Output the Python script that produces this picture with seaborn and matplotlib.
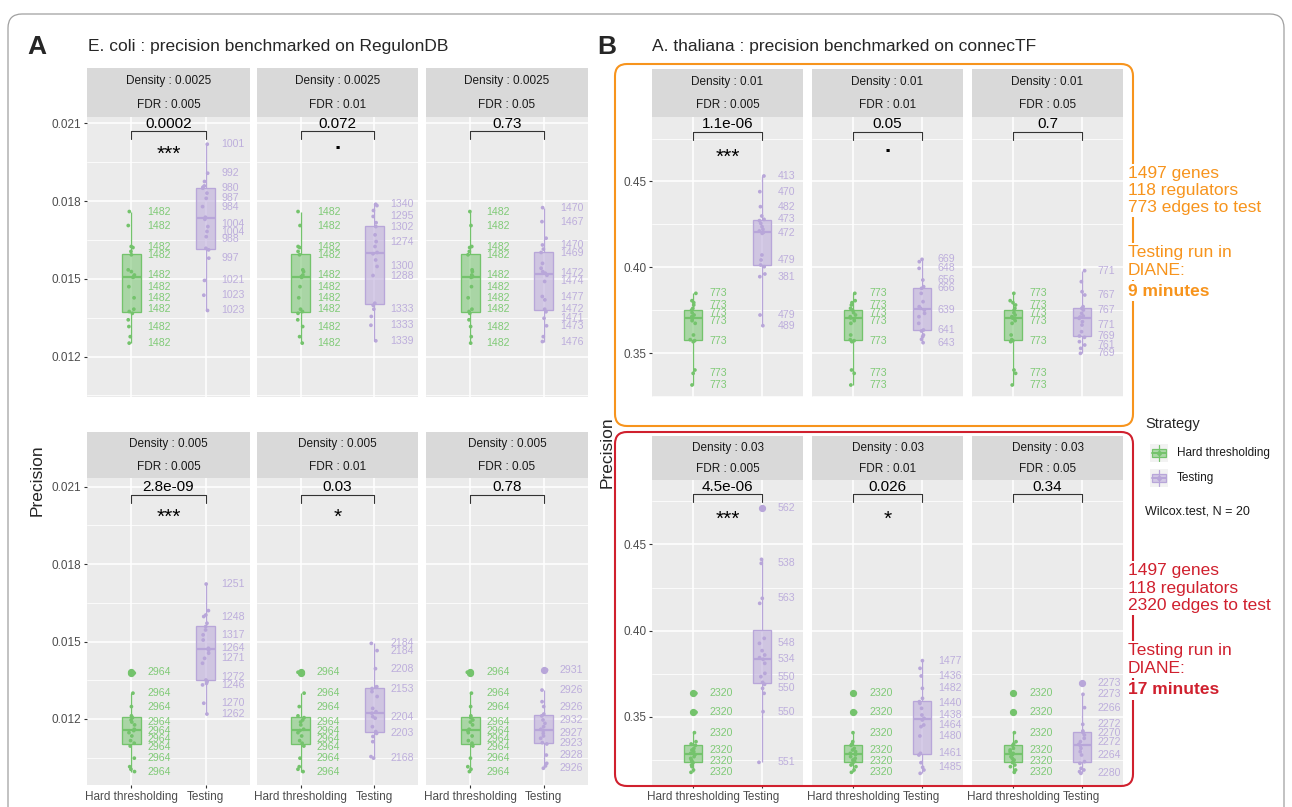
import numpy as np
import pandas as pd
import seaborn as sns
import matplotlib
matplotlib.use("Agg")
import matplotlib.pyplot as plt
import matplotlib.transforms as mtrans
from matplotlib.patches import FancyBboxPatch, Rectangle

# ------------------------------------------------------------------ data
strategies = ["Hard thresholding", "Testing"]
fdr_levels = ["0.005", "0.01", "0.05"]
ecoli_densities = ["0.0025", "0.005"]
thaliana_densities = ["0.01", "0.03"]

# E. coli, density 0.0025 (hard thresholding does not depend on the FDR)
ecoli_hard_d0025 = [0.01760, 0.01706, 0.01625, 0.01621, 0.01606, 0.01593, 0.01535, 0.01528, 0.01515, 0.01509,
                    0.01506, 0.01470, 0.01427, 0.01383, 0.01374, 0.01367, 0.01342, 0.01316, 0.01277, 0.01252]
ecoli_hard_d0025_edges = [(0.01760, 1482), (0.01706, 1482), (0.01625, 1482), (0.01593, 1482), (0.01515, 1482),
                          (0.01470, 1482), (0.01427, 1482), (0.01383, 1482), (0.01316, 1482), (0.01252, 1482)]
ecoli_test_d0025_fdr0005 = [0.02020, 0.01908, 0.01876, 0.01859, 0.01854, 0.01850, 0.01831, 0.01811, 0.01779, 0.01738,
                            0.01730, 0.01702, 0.01683, 0.01663, 0.01618, 0.01612, 0.01580, 0.01494, 0.01437, 0.01378]
ecoli_test_d0025_fdr0005_edges = [(0.02020, 1001), (0.01908, 992), (0.01850, 980), (0.01811, 987), (0.01779, 984),
                                  (0.01702, 1004), (0.01683, 1004), (0.01663, 988), (0.01580, 997), (0.01494, 1021),
                                  (0.01437, 1023), (0.01378, 1023)]
ecoli_test_d0025_fdr001 = [0.01788, 0.01783, 0.01764, 0.01741, 0.01717, 0.01702, 0.01670, 0.01644, 0.01625, 0.01602,
                           0.01597, 0.01573, 0.01548, 0.01513, 0.01406, 0.01398, 0.01383, 0.01355, 0.01321, 0.01261]
ecoli_test_d0025_fdr001_edges = [(0.01788, 1340), (0.01741, 1295), (0.01702, 1302), (0.01644, 1274), (0.01548, 1300),
                                 (0.01513, 1288), (0.01383, 1333), (0.01321, 1333), (0.01261, 1339)]
ecoli_test_d0025_fdr005 = [0.01775, 0.01721, 0.01657, 0.01631, 0.01615, 0.01602, 0.01560, 0.01541, 0.01528, 0.01522,
                           0.01514, 0.01490, 0.01432, 0.01419, 0.01383, 0.01373, 0.01348, 0.01319, 0.01277, 0.01258]
ecoli_test_d0025_fdr005_edges = [(0.01775, 1470), (0.01721, 1467), (0.01631, 1470), (0.01602, 1469), (0.01522, 1472),
                                 (0.01490, 1474), (0.01432, 1477), (0.01383, 1472), (0.01348, 1471), (0.01319, 1473),
                                 (0.01258, 1476)]

# E. coli, density 0.005
ecoli_hard_d005 = [0.01381, 0.01378, 0.01300, 0.01248, 0.01212, 0.01205, 0.01196, 0.01188, 0.01177, 0.01160,
                   0.01155, 0.01147, 0.01134, 0.01116, 0.01106, 0.01095, 0.01048, 0.01015, 0.01005, 0.00996]
ecoli_hard_d005_edges = [(0.01381, 2964), (0.01300, 2964), (0.01248, 2964), (0.01188, 2964), (0.01155, 2964),
                         (0.01116, 2964), (0.01095, 2964), (0.01048, 2964), (0.00996, 2964)]
ecoli_test_d005_fdr0005 = [0.01723, 0.01620, 0.01603, 0.01597, 0.01571, 0.01558, 0.01545, 0.01526, 0.01506, 0.01474,
                           0.01467, 0.01455, 0.01435, 0.01416, 0.01351, 0.01345, 0.01338, 0.01332, 0.01261, 0.01219]
ecoli_test_d005_fdr0005_edges = [(0.01723, 1251), (0.01597, 1248), (0.01526, 1317), (0.01474, 1264), (0.01435, 1271),
                                 (0.01351, 1272), (0.01345, 1246), (0.01261, 1270), (0.01219, 1262)]
ecoli_test_d005_fdr001 = [0.01493, 0.01465, 0.01395, 0.01325, 0.01323, 0.01318, 0.01306, 0.01287, 0.01241, 0.01228,
                          0.01222, 0.01209, 0.01203, 0.01170, 0.01151, 0.01144, 0.01132, 0.01112, 0.01054, 0.01048]
ecoli_test_d005_fdr001_edges = [(0.01493, 2184), (0.01465, 2184), (0.01395, 2208), (0.01318, 2153), (0.01209, 2204),
                                (0.01144, 2203), (0.01048, 2168)]
ecoli_test_d005_fdr005 = [0.01390, 0.01312, 0.01267, 0.01248, 0.01219, 0.01212, 0.01196, 0.01183, 0.01170, 0.01160,
                          0.01155, 0.01144, 0.01134, 0.01125, 0.01108, 0.01103, 0.01060, 0.01028, 0.01018, 0.01009]
ecoli_test_d005_fdr005_edges = [(0.01390, 2931), (0.01312, 2926), (0.01248, 2926), (0.01196, 2932), (0.01144, 2927),
                                (0.01108, 2923), (0.01060, 2928), (0.01009, 2926)]

# A. thaliana, density 0.01
thaliana_hard_d001 = [0.38485, 0.38058, 0.37942, 0.37806, 0.37612, 0.37515, 0.37359, 0.37223, 0.37126, 0.37049,
                      0.37010, 0.36893, 0.36738, 0.36058, 0.35786, 0.35728, 0.35670, 0.34019, 0.33825, 0.33146]
thaliana_hard_d001_edges = [(0.38485, 773), (0.37806, 773), (0.37359, 773), (0.36893, 773), (0.35728, 773),
                            (0.33825, 773), (0.33146, 773)]
thaliana_test_d001_fdr0005 = [0.45321, 0.44408, 0.43534, 0.42991, 0.42796, 0.42719, 0.42563, 0.42369, 0.42214, 0.42117,
                              0.42039, 0.41981, 0.40719, 0.40427, 0.40136, 0.40039, 0.39612, 0.39456, 0.37223, 0.36602]
thaliana_test_d001_fdr0005_edges = [(0.45321, 413), (0.44408, 470), (0.43534, 482), (0.42796, 473), (0.41981, 472),
                                    (0.40427, 479), (0.39456, 381), (0.37223, 479), (0.36602, 489)]
thaliana_test_d001_fdr001 = [0.40466, 0.40330, 0.39942, 0.39262, 0.38874, 0.38777, 0.38485, 0.38000, 0.37709, 0.37612,
                             0.37515, 0.37320, 0.37126, 0.36738, 0.36350, 0.36291, 0.36058, 0.35961, 0.35806, 0.35612]
thaliana_test_d001_fdr001_edges = [(0.40466, 669), (0.39942, 648), (0.39262, 656), (0.38777, 666), (0.37515, 639),
                                   (0.36350, 641), (0.35612, 643)]
thaliana_test_d001_fdr005 = [0.39806, 0.39165, 0.38582, 0.38388, 0.37709, 0.37612, 0.37515, 0.37320, 0.37165, 0.37107,
                             0.37029, 0.36835, 0.36641, 0.36252, 0.35999, 0.35922, 0.35670, 0.35476, 0.35282, 0.34990]
thaliana_test_d001_fdr005_edges = [(0.39806, 771), (0.38388, 767), (0.37515, 767), (0.36641, 771), (0.35999, 769),
                                   (0.35476, 761), (0.34990, 769)]

# A. thaliana, density 0.03
thaliana_hard_d003 = [0.36371, 0.35270, 0.34093, 0.33571, 0.33436, 0.33359, 0.33185, 0.33089, 0.32992, 0.32896,
                      0.32819, 0.32703, 0.32606, 0.32510, 0.32432, 0.32355, 0.32220, 0.32124, 0.31931, 0.31796]
thaliana_hard_d003_edges = [(0.36371, 2320), (0.35270, 2320), (0.34093, 2320), (0.33089, 2320), (0.32432, 2320),
                            (0.31796, 2320)]
thaliana_test_d003_fdr0005 = [0.47124, 0.44131, 0.43900, 0.41873, 0.41583, 0.39556, 0.39266, 0.38842, 0.38591, 0.38436,
                              0.38340, 0.38108, 0.37529, 0.37336, 0.37008, 0.36892, 0.36660, 0.36371, 0.35309, 0.32374]
thaliana_test_d003_fdr0005_edges = [(0.47124, 562), (0.43900, 538), (0.41873, 563), (0.39266, 548), (0.38340, 534),
                                    (0.37336, 550), (0.36660, 550), (0.35309, 550), (0.32374, 551)]
thaliana_test_d003_fdr001 = [0.38263, 0.37819, 0.37375, 0.36660, 0.36081, 0.35888, 0.35792, 0.35502, 0.35116, 0.34923,
                             0.34826, 0.34537, 0.34440, 0.33900, 0.32896, 0.32799, 0.32355, 0.32085, 0.31931, 0.31737]
thaliana_test_d003_fdr001_edges = [(0.38263, 1477), (0.37375, 1436), (0.36660, 1482), (0.35792, 1440), (0.35116, 1438),
                                   (0.34537, 1464), (0.33900, 1480), (0.32896, 1461), (0.32085, 1485)]
thaliana_test_d003_fdr005 = [0.36950, 0.36313, 0.35541, 0.34575, 0.34189, 0.34093, 0.33958, 0.33764, 0.33571, 0.33417,
                             0.33340, 0.33185, 0.32992, 0.32799, 0.32413, 0.32317, 0.32027, 0.31931, 0.31834, 0.31737]
thaliana_test_d003_fdr005_edges = [(0.36950, 2273), (0.36313, 2273), (0.35541, 2266), (0.34575, 2272), (0.34093, 2270),
                                   (0.33571, 2272), (0.32799, 2264), (0.31737, 2280)]

# Wilcoxon p-values (Hard thresholding vs Testing), one per facet
ecoli_pvalues = [["0.0002", "0.072", "0.73"], ["2.8e-09", "0.03", "0.78"]]
thaliana_pvalues = [["1.1e-06", "0.05", "0.7"], ["4.5e-06", "0.026", "0.34"]]

ecoli_hard = [ecoli_hard_d0025, ecoli_hard_d005]
ecoli_hard_edges = [ecoli_hard_d0025_edges, ecoli_hard_d005_edges]
ecoli_test = [[ecoli_test_d0025_fdr0005, ecoli_test_d0025_fdr001, ecoli_test_d0025_fdr005],
              [ecoli_test_d005_fdr0005, ecoli_test_d005_fdr001, ecoli_test_d005_fdr005]]
ecoli_test_edges = [[ecoli_test_d0025_fdr0005_edges, ecoli_test_d0025_fdr001_edges, ecoli_test_d0025_fdr005_edges],
                    [ecoli_test_d005_fdr0005_edges, ecoli_test_d005_fdr001_edges, ecoli_test_d005_fdr005_edges]]
thaliana_hard = [thaliana_hard_d001, thaliana_hard_d003]
thaliana_hard_edges = [thaliana_hard_d001_edges, thaliana_hard_d003_edges]
thaliana_test = [[thaliana_test_d001_fdr0005, thaliana_test_d001_fdr001, thaliana_test_d001_fdr005],
                 [thaliana_test_d003_fdr0005, thaliana_test_d003_fdr001, thaliana_test_d003_fdr005]]
thaliana_test_edges = [[thaliana_test_d001_fdr0005_edges, thaliana_test_d001_fdr001_edges, thaliana_test_d001_fdr005_edges],
                       [thaliana_test_d003_fdr0005_edges, thaliana_test_d003_fdr001_edges, thaliana_test_d003_fdr005_edges]]

# ------------------------------------------------------------------ style
sns.set_theme(style="white")
plt.rcParams["font.family"] = ["Liberation Sans", "DejaVu Sans"]

W, H = 1292, 807
GREEN = "#74C36C"
PURPLE = "#B8A6D9"
GREEN_TXT = "#80CA77"
PURPLE_TXT = "#BDAEDC"
PANEL = "#EBEBEB"
STRIP = "#D9D9D9"
ORANGE = "#F7941D"
RED = "#D0202E"
PALETTE = {strategies[0]: GREEN, strategies[1]: PURPLE}
TEXT_COLORS = [GREEN_TXT, PURPLE_TXT]

np.random.seed(11)
fig = plt.figure(figsize=(W / 100, H / 100), dpi=100)
fig.patch.set_facecolor("white")


def px_rect(x0, y0, x1, y1):
    """Pixel box (top-left origin) -> figure fraction rectangle."""
    return [x0 / W, 1 - y1 / H, (x1 - x0) / W, (y1 - y0) / H]


def fy(y):
    return 1 - y / H


def stars(p):
    p = float(p)
    if p < 0.001:
        return "***"
    if p < 0.01:
        return "**"
    if p < 0.05:
        return "*"
    if p <= 0.1:
        return "."
    return ""


def spread(ax, values, gap_px=7.8):
    """Push overlapping labels apart vertically (display space)."""
    vals = np.asarray(values, float)
    disp = ax.transData.transform(np.column_stack([np.zeros(len(vals)), vals]))[:, 1]
    order = np.argsort(-disp)
    y = disp[order].copy()
    for _ in range(400):
        moved = False
        for k in range(len(y) - 1):
            d = y[k] - y[k + 1]
            if d < gap_px - 1e-6:
                s = (gap_px - d) / 2
                y[k] += s
                y[k + 1] -= s
                moved = True
        if not moved:
            break
    out = np.empty_like(y)
    out[order] = y
    return ax.transData.inverted().transform(np.column_stack([np.zeros(len(out)), out]))[:, 1]


def draw_facet(xs, rows, ylim, ticks, minor, fmt, hard, test, hard_edges, test_edges,
               pval, density, fdr, bracket_y, sig_y, first_col, bottom_row):
    x0, x1 = xs
    strip_top, top, bottom = rows
    ax = fig.add_axes(px_rect(x0, top, x1, bottom))
    sax = fig.add_axes(px_rect(x0, strip_top, x1, top))
    sax.set_facecolor(STRIP)
    sax.set_xticks([])
    sax.set_yticks([])
    for s in sax.spines.values():
        s.set_visible(False)
    sax.text(0.5, 0.735, f"Density : {density}", ha="center", va="center", fontsize=8.5, color="#1A1A1A")
    sax.text(0.5, 0.245, f"FDR : {fdr}", ha="center", va="center", fontsize=8.5, color="#1A1A1A")

    df = pd.DataFrame({"Strategy": [strategies[0]] * len(hard) + [strategies[1]] * len(test),
                       "Precision": list(hard) + list(test)})
    ax.set_facecolor(PANEL)
    sns.boxplot(data=df, x="Strategy", y="Precision", hue="Strategy", order=strategies, hue_order=strategies,
                palette=PALETTE, saturation=1, width=0.26, showcaps=False, linewidth=0.95, legend=False,
                flierprops=dict(marker="o", markersize=4.2), ax=ax, zorder=2)
    for cont, col in zip(ax.containers, [GREEN, PURPLE]):
        for b in cont.boxes:
            b.set_facecolor(matplotlib.colors.to_rgba(col, 0.55))
            b.set_edgecolor(col)
        for ln in cont.whiskers:
            ln.set_color(col)
        for ln in cont.medians:
            ln.set_color(col)
            ln.set_linewidth(1.6)
        for ln in cont.fliers:
            ln.set_markerfacecolor(col)
            ln.set_markeredgecolor(col)
    sns.stripplot(data=df, x="Strategy", y="Precision", hue="Strategy", order=strategies, hue_order=strategies,
                  palette=PALETTE, jitter=0.045, size=2.7, linewidth=0, legend=False, ax=ax, zorder=3)

    ax.set_xlim(-0.6, 1.6)
    ax.set_ylim(*ylim)
    ax.set_yticks(ticks)
    ax.set_yticks(minor, minor=True)
    ax.set_yticklabels([fmt.format(t) for t in ticks])
    ax.set_axisbelow(True)
    ax.yaxis.grid(True, which="major", color="white", lw=1.1)
    ax.yaxis.grid(True, which="minor", color="white", lw=0.55)
    ax.xaxis.grid(True, which="major", color="white", lw=1.1)
    for s in ax.spines.values():
        s.set_visible(False)
    ax.set_xlabel("")
    ax.set_ylabel("")
    ax.tick_params(axis="y", which="major", length=2.5, width=0.8, color="#333333",
                   labelsize=8.5, labelcolor="#4D4D4D", pad=1.5, left=first_col, labelleft=first_col)
    ax.tick_params(axis="y", which="minor", length=0)
    ax.tick_params(axis="x", length=2.5, width=0.8, color="#333333", labelsize=8.5,
                   labelcolor="#4D4D4D", pad=1.5, bottom=bottom_row, labelbottom=bottom_row)

    # number of edges tested, next to the points
    for i, (edges, col) in enumerate(zip([hard_edges, test_edges], TEXT_COLORS)):
        vals = [v for v, _ in edges]
        ys = spread(ax, vals)
        tr = mtrans.offset_copy(ax.transData, fig=fig, x=16, y=0, units="dots")
        for (v, e), yv in zip(edges, ys):
            ax.text(i, yv, str(e), transform=tr, ha="left", va="center", fontsize=7.6, color=col, zorder=4)

    # comparison bracket with p-value and significance code
    span = ylim[1] - ylim[0]
    tick = span * 8 / (bottom - top)
    ax.plot([0, 0, 1, 1], [bracket_y - tick, bracket_y, bracket_y, bracket_y - tick],
            color="#333333", lw=0.8, zorder=5, clip_on=False)
    ax.annotate(pval, xy=(0.5, bracket_y), xytext=(0, 0.5), textcoords="offset points",
                ha="center", va="bottom", fontsize=11, color="black")
    code = stars(pval)
    if code == ".":
        ax.annotate(code, xy=(0.5, sig_y), xytext=(0, 4.5), textcoords="offset points",
                    ha="center", va="center", fontsize=16, color="black", fontweight="bold")
    elif code:
        ax.annotate(code, xy=(0.5, sig_y), xytext=(0, -3.3), textcoords="offset points",
                    ha="center", va="center", fontsize=15, color="black")
    return ax


# ------------------------------------------------------------------ panel A: E. coli
A_COLS = [(87, 250), (257, 418), (426, 588)]
A_ROWS = [(68, 117, 397), (432, 478, 785)]
A_YLIM = [(0.01044, 0.02125), (0.00944, 0.02134)]
A_TICKS = [0.012, 0.015, 0.018, 0.021]
A_MINOR = [0.0105, 0.0135, 0.0165, 0.0195]
for r in range(2):
    for c in range(3):
        draw_facet(A_COLS[c], A_ROWS[r], A_YLIM[r], A_TICKS, A_MINOR, "{:.3f}",
                   ecoli_hard[r], ecoli_test[r][c], ecoli_hard_edges[r], ecoli_test_edges[r][c],
                   ecoli_pvalues[r][c], ecoli_densities[r], fdr_levels[c],
                   bracket_y=0.0207, sig_y=0.0200, first_col=(c == 0), bottom_row=(r == 1))

# ------------------------------------------------------------------ panel B: A. thaliana
B_COLS = [(652, 803), (812, 963), (972, 1123)]
B_ROWS = [(69, 117, 397), (436, 480, 785)]
B_YLIM = [(0.32447, 0.48757), (0.31061, 0.48727)]
B_TICKS = [0.35, 0.40, 0.45]
B_MINOR = [0.325, 0.375, 0.425, 0.475]
for r in range(2):
    for c in range(3):
        draw_facet(B_COLS[c], B_ROWS[r], B_YLIM[r], B_TICKS, B_MINOR, "{:.2f}",
                   thaliana_hard[r], thaliana_test[r][c], thaliana_hard_edges[r], thaliana_test_edges[r][c],
                   thaliana_pvalues[r][c], thaliana_densities[r], fdr_levels[c],
                   bracket_y=0.479, sig_y=0.467, first_col=(c == 0), bottom_row=(r == 1))

# ------------------------------------------------------------------ titles and axis titles
fig.text(37 / W, fy(47), "A", ha="center", va="center", fontsize=19, fontweight="bold")
fig.text(88 / W, fy(47), "E. coli : precision benchmarked on RegulonDB", ha="left", va="center", fontsize=12.5)
fig.text(607 / W, fy(47), "B", ha="center", va="center", fontsize=19, fontweight="bold")
fig.text(652 / W, fy(47), "A. thaliana : precision benchmarked on connecTF", ha="left", va="center", fontsize=12.5)
fig.text(37 / W, fy(480), "Precision", rotation=90, ha="center", va="center", fontsize=12.5)
fig.text(607 / W, fy(452), "Precision", rotation=90, ha="center", va="center", fontsize=12.5)

# ------------------------------------------------------------------ legend
fig.text(1145 / W, fy(424), "Strategy", ha="left", va="center", fontsize=10.5)
for yc, name, col in [(453, strategies[0], GREEN), (478, strategies[1], PURPLE)]:
    kax = fig.add_axes(px_rect(1150, yc - 9, 1168, yc + 9))
    kax.set_facecolor("#F2F2F2")
    kax.set_xlim(0, 1)
    kax.set_ylim(0, 1)
    kax.set_xticks([])
    kax.set_yticks([])
    for s in kax.spines.values():
        s.set_visible(False)
    kax.plot([0.5, 0.5], [0.05, 0.95], color=col, lw=0.9)
    kax.add_patch(Rectangle((0.12, 0.27), 0.76, 0.46, facecolor=matplotlib.colors.to_rgba(col, 0.55),
                            edgecolor=col, lw=0.9))
    kax.plot([0.12, 0.88], [0.5, 0.5], color=col, lw=1.4)
    kax.plot([0.5], [0.5], "o", color=col, ms=2.5)
    fig.text(1177 / W, fy(yc), name, ha="left", va="center", fontsize=8.5, color="#1A1A1A")
fig.text(1145 / W, fy(511), "Wilcox.test, N = 20", ha="left", va="center", fontsize=9, color="#1A1A1A")

# ------------------------------------------------------------------ framing boxes and run notes
ident = mtrans.IdentityTransform()
fig.add_artist(FancyBboxPatch((8, H - 830), 1276, 816, boxstyle="round,pad=0,rounding_size=14",
                              transform=ident, facecolor="none", edgecolor="#A0A0A0", lw=0.9))
fig.add_artist(FancyBboxPatch((615, H - 426), 518, 362, boxstyle="round,pad=0,rounding_size=12",
                              transform=ident, facecolor="none", edgecolor=ORANGE, lw=1.5))
fig.add_artist(FancyBboxPatch((615, H - 786), 518, 354, boxstyle="round,pad=0,rounding_size=12",
                              transform=ident, facecolor="none", edgecolor=RED, lw=1.5))

white = dict(facecolor="white", edgecolor="none", pad=1.5)
notes = [(ORANGE, "1497 genes\n118 regulators\n773 edges to test", 190.5, "Testing run in\nDIANE:", 261.5, "9 minutes", 291),
         (RED, "1497 genes\n118 regulators\n2320 edges to test", 588, "Testing run in\nDIANE:", 659.5, "17 minutes", 690)]
for col, block1, y1, block2, y2, bold, y3 in notes:
    fig.text(1128 / W, fy(y1), block1, color=col, fontsize=12.5, ha="left", va="center", linespacing=1.18, bbox=white)
    fig.text(1128 / W, fy(y2), block2, color=col, fontsize=12.5, ha="left", va="center", linespacing=1.18, bbox=white)
    fig.text(1128 / W, fy(y3), bold, color=col, fontsize=12.5, ha="left", va="center", fontweight="bold", bbox=white)

fig.savefig("out.png", dpi=100)
